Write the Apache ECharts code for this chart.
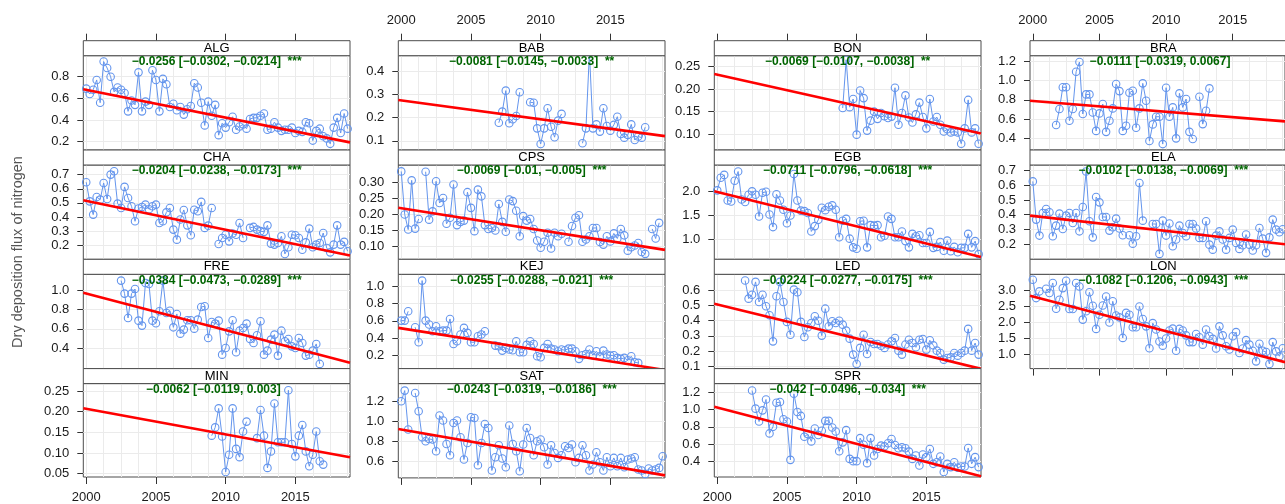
<!DOCTYPE html>
<html><head><meta charset="utf-8">
<script src="https://cdn.jsdelivr.net/npm/echarts@6/dist/echarts.min.js"></script>
<style>html,body{margin:0;padding:0;background:#fff}#c{width:1285px;height:504px}</style>
</head><body><div id="c"></div>
<script>
// ---------------- data ----------------
const sites = ['ALG','BAB','BON','BRA','CHA','CPS','EGB','ELA','FRE','KEJ','LED','LON','MIN','SAT','SPR'];
const QSTEP = 0.25; // quarterly values
// year of first value of each site's series (aligned with sites)
const firstQuarter = [2000, 2007, 2009, 2001.75, 2000, 2000, 2000, 2000, 2002.5, 2000, 2002, 2000, 2009, 2000, 2002.5];

const ALG = [0.69,0.64,0.68,0.77,0.56,0.94,0.88,0.80,0.66,0.70,0.68,0.65,0.48,0.58,0.54,0.84,0.48,0.57,0.54,0.86,
0.77,0.48,0.78,0.73,0.52,0.55,0.49,0.52,0.45,0.50,0.53,0.74,0.70,0.56,0.35,0.57,0.44,0.54,0.26,0.37,
0.33,0.38,0.43,0.31,0.34,0.36,0.32,0.41,0.42,0.42,0.44,0.46,0.31,0.32,0.38,0.33,0.30,0.31,0.31,0.33,
0.28,0.30,0.29,0.38,0.37,0.21,0.30,0.32,0.25,0.23,0.18,0.33,0.42,0.28,0.46,0.32];
const BAB = [0.178,0.226,0.316,0.176,0.193,0.207,0.309,null,null,0.266,0.264,0.154,0.087,0.154,0.24,0.161,0.116,0.187,0.216,
null,null,null,null,null,0.09,0.154,0.48,0.154,0.171,0.14,0.24,0.164,0.144,0.169,0.204,0.13,0.114,0.126,0.171,0.104,0.119,0.114,0.159];
const BON = [0.158,0.265,0.16,0.178,0.099,0.197,0.18,0.108,0.13,0.15,0.134,0.147,0.14,0.136,0.139,0.203,0.121,0.147,0.186,0.137,
0.126,0.144,0.17,0.138,0.113,0.178,0.128,0.138,0.121,0.106,0.111,0.104,0.106,0.104,0.079,0.113,0.176,0.104,0.113,0.079];
const BRA = [0.54,0.705,0.93,0.93,0.585,0.705,1.09,1.19,0.654,0.856,0.856,0.67,0.48,0.66,0.757,0.47,0.585,0.712,0.963,0.89,
0.48,0.533,0.873,0.894,0.513,0.712,0.97,0.79,0.375,0.547,0.626,0.626,0.344,0.925,0.626,0.722,0.403,0.867,0.722,0.808,
0.47,0.396,null,0.832,0.55,0.688,0.918];
const CHA = [0.646,0.511,0.417,0.542,0.523,0.641,0.528,0.7,0.724,0.495,0.464,0.613,0.535,0.476,0.37,0.46,0.471,0.488,0.455,0.476,
0.488,0.358,0.37,0.433,0.464,0.311,0.24,0.382,0.45,0.341,0.271,0.452,0.441,0.507,0.323,0.339,0.464,null,
0.209,0.252,0.275,0.228,0.283,0.275,0.358,0.252,null,
0.323,0.33,0.311,0.3,0.295,0.341,0.212,0.205,0.216,0.264,0.139,0.186,0.275,0.271,0.252,0.169,0.221,0.318,0.186,0.205,
0.216,0.287,0.181,0.15,0.205,0.341,0.205,0.224,0.158];
const CPS = [0.334,0.199,0.152,0.306,0.155,0.185,null,0.333,0.183,0.209,0.303,0.235,0.251,0.17,0.189,0.293,0.166,0.176,0.18,0.269,
0.22,0.147,0.277,0.256,0.166,0.154,0.157,0.149,0.232,0.176,0.145,0.246,0.241,0.211,0.131,0.194,0.18,0.185,0.154,0.118,
0.095,0.114,0.142,0.093,0.142,0.131,0.139,null,0.114,0.163,0.189,0.197,0.114,0.121,0.131,0.157,0.157,0.113,0.105,0.131,
0.115,0.14,0.124,0.154,0.134,0.086,0.097,0.102,0.11,0.082,0.076,null,0.154,0.124,0.173];
const EGB = [2.02,2.28,2.34,1.81,1.79,2.22,2.41,1.83,1.78,1.93,2.0,1.93,1.48,1.97,1.99,1.52,1.26,1.94,1.81,1.62,
1.34,1.5,2.36,1.81,1.6,1.59,1.55,1.17,1.28,1.41,1.66,1.61,1.68,1.71,1.62,1.05,1.39,1.43,1.02,0.84,
0.81,1.38,1.39,0.84,1.3,1.29,1.3,1.05,1.08,1.48,1.43,1.05,1.05,1.17,0.97,0.84,1.12,1.07,1.09,0.93,
0.93,1.16,0.83,0.85,0.95,0.77,0.98,0.76,0.85,0.74,0.83,0.83,1.12,0.84,0.97,0.7];
const ELA = [0.627,0.366,0.257,0.411,0.439,0.416,0.252,0.325,0.407,0.302,0.393,0.411,0.343,0.411,0.286,0.452,0.695,0.355,0.245,0.52,
0.484,0.384,0.384,0.291,0.314,0.373,0.305,0.259,null,0.259,0.202,0.252,0.616,0.359,null,null,0.336,0.336,0.132,0.359,
0.257,0.339,0.184,0.23,0.325,0.275,0.252,0.336,0.336,0.305,0.241,0.241,0.355,0.195,0.161,0.257,0.286,0.23,0.161,0.241,
0.298,0.207,0.166,0.191,0.264,0.195,0.155,0.191,0.309,0.236,0.139,0.245,0.366,0.298,0.28,0.3];
const FRE = [1.105,0.969,0.714,0.969,1.017,0.686,0.634,1.08,1.07,0.686,0.658,0.784,1.105,0.766,0.79,0.616,0.756,0.55,0.592,0.69,
0.69,0.602,0.697,0.829,0.836,0.505,0.672,0.655,0.686,0.33,0.4,0.574,0.69,0.355,0.581,0.609,0.655,0.494,0.452,0.533,
0.68,0.33,0.372,0.487,0.54,0.32,0.581,0.47,0.494,0.417,0.4,0.505,0.452,0.32,0.33,0.372,0.442,0.233];
const KEJ = [0.602,0.602,0.71,null,0.525,0.35,1.066,0.602,0.556,0.478,0.536,0.478,0.486,0.486,0.621,0.331,0.362,0.44,0.517,0.459,
0.351,0.351,0.42,0.44,0.478,null,null,0.312,0.304,0.254,0.285,0.266,0.258,0.362,0.235,0.235,0.32,0.362,0.331,0.188,
0.177,0.285,0.331,0.277,0.266,0.246,0.266,0.258,0.277,0.277,0.246,0.158,0.2,0.215,0.266,0.2,0.246,0.188,0.254,0.208,
0.196,0.2,0.169,0.158,0.169,0.142,0.188,0.119,0.111];
const LED = [0.664,0.545,0.571,0.655,0.523,0.571,0.495,0.436,0.264,0.561,0.655,0.523,0.392,0.308,0.604,0.587,0.392,0.293,0.357,0.385,
0.429,0.4,0.302,0.479,0.363,0.396,0.385,0.4,0.374,0.335,0.282,0.177,0.115,0.221,0.308,0.181,0.26,0.247,0.247,0.235,
0.221,0.243,0.264,0.286,0.203,0.177,0.243,0.275,0.253,0.225,0.275,0.28,0.21,0.271,0.238,0.203,0.188,0.144,0.155,0.159,
0.188,0.17,0.188,0.203,0.346,0.203,0.253,0.177];
const LON = [3.33,2.76,2.97,null,3.05,2.92,3.23,2.43,2.71,3.07,3.3,2.42,2.42,3.23,3.12,2.09,2.35,2.94,2.52,1.8,
2.24,2.53,2.81,2.0,2.66,2.22,2.16,1.52,2.3,2.24,1.85,1.85,2.5,2.11,1.88,1.2,1.98,1.78,1.41,1.28,
1.5,1.75,1.81,1.12,1.8,1.75,1.6,1.39,1.39,1.64,1.54,1.31,1.78,1.57,1.49,1.19,1.88,1.6,1.26,1.16,
1.57,1.7,1.05,1.19,1.45,1.31,1.12,0.79,1.34,1.12,1.08,0.71,1.39,1.1,0.95,1.2];
const MIN = [0.142,0.162,0.208,0.14,0.054,0.096,0.208,0.11,0.09,0.152,0.176,null,null,
0.136,0.204,0.142,0.064,0.104,0.22,0.126,0.126,0.126,0.252,0.122,0.092,0.142,0.168,0.104,0.068,0.096,0.152,0.08,0.072];
const SAT = [1.2,1.307,0.917,null,1.283,1.1,0.84,0.8,0.823,0.817,0.7,1.057,1.007,0.773,0.66,0.983,1.007,0.84,0.617,0.783,
1.04,1.033,0.56,0.783,0.973,0.933,0.507,0.64,0.76,0.627,0.54,0.957,0.773,0.7,0.5,0.767,0.933,0.833,0.66,0.8,
0.817,0.74,0.567,0.76,0.683,0.633,0.66,0.75,0.733,0.767,0.59,0.633,0.76,0.66,0.507,0.567,0.69,0.59,0.507,0.64,
0.55,0.633,0.55,0.633,0.54,0.617,0.627,0.64,0.517,0.507,0.473,0.527,0.507,0.517,0.533,0.65];
const SPR = [1.219,1.01,0.861,0.99,1.116,0.724,0.8,1.078,1.086,0.888,0.861,0.419,1.181,0.971,0.926,0.686,0.716,0.632,0.781,0.705,
0.754,0.869,0.869,0.792,0.747,0.518,0.621,0.762,0.43,0.404,0.404,0.67,0.594,0.381,0.67,0.469,0.545,0.583,0.575,0.61,
0.659,0.59,0.552,0.564,0.552,0.514,0.43,0.469,0.354,0.48,0.45,0.545,0.373,0.392,0.457,0.278,0.373,0.335,0.392,0.328,
0.343,0.343,0.556,0.373,0.45,0.335];
const siteValues = [ALG,BAB,BON,BRA,CHA,CPS,EGB,ELA,FRE,KEJ,LED,LON,MIN,SAT,SPR];

// Theil-Sen trend: slope per year, CI, significance, fitted value at 2000.0
const slopes = [-0.0256,-0.0081,-0.0069,-0.0111,-0.0204,-0.0069,-0.0711,-0.0102,-0.0384,-0.0255,-0.0224,-0.1082,-0.0062,-0.0243,-0.042];
const lowers = [-0.0302,-0.0145,-0.0107,-0.0319,-0.0238,-0.01,-0.0796,-0.0138,-0.0473,-0.0288,-0.0277,-0.1206,-0.0119,-0.0319,-0.0496];
const uppers = [-0.0214,-0.0033,-0.0038,0.0067,-0.0173,-0.005,-0.0618,-0.0069,-0.0289,-0.021,-0.0175,-0.0943,0.003,-0.0186,-0.034];
const stars  = ['***','**','**','','***','***','***','***','***','***','***','***','','***','***'];
const trendAt2000 = [0.678,0.274,0.232,0.788,0.514,0.219,1.985,0.391,0.971,0.512,0.507,2.811,0.207,0.918,1.023];

// axes
const xRange = [1999.79, 2018.92];
const xTicks = [2000, 2005, 2010, 2015];
const yMin = [0.123,0.061,0.065,0.283,0.101,0.059,0.593,0.095,0.184,0.045,0.085,0.565,0.042,0.433,0.221];
const yMax = [0.994,0.466,0.274,1.255,0.768,0.354,2.545,0.739,1.171,1.139,0.705,3.5,0.268,1.377,1.299];
const yTicks = [
  [0.2,0.4,0.6,0.8],[0.1,0.2,0.3,0.4],[0.10,0.15,0.20,0.25],[0.4,0.6,0.8,1.0,1.2],
  [0.2,0.3,0.4,0.5,0.6,0.7],[0.10,0.15,0.20,0.25,0.30],[1.0,1.5,2.0],[0.2,0.3,0.4,0.5,0.6,0.7],
  [0.4,0.6,0.8,1.0],[0.2,0.4,0.6,0.8,1.0],[0.1,0.2,0.3,0.4,0.5,0.6],[1.0,1.5,2.0,2.5,3.0],
  [0.05,0.10,0.15,0.20,0.25],[0.6,0.8,1.0,1.2],[0.4,0.6,0.8,1.0,1.2]];
const yDecimals = [1,1,2,1,1,2,1,1,1,1,1,1,2,1,1];
const xGridYears = [2000,2001.25,2002.5,2003.75,2005,2006.25,2007.5,2008.75,2010,2011.25,2012.5,2013.75,2015,2016.25,2017.5,2018.75];
const yAxisTitle = 'Dry deposition flux of nitrogen';

// ---------------- layout ----------------
const colLeft = [83.3, 398.3, 714.3, 1030];
const rowTop = [55.7, 165, 274.3, 383.6];
const PW = 266.7, PH = 94.3, STRIP = 15;
const FONT = '"Liberation Sans", Arial, Helvetica, sans-serif';
const AXC = '#333', TXT = '#1a1a1a', BORDER = '#4d4d4d';
const minus = s => String(s).replace('-', '\u2212');

const grids = [], xAxes = [], yAxes = [], series = [], graphics = [];
sites.forEach((site, i) => {
  const r = Math.floor(i / 4), c = i % 4;
  const left = colLeft[c], top = rowTop[r];
  grids.push({left, top, width: PW, height: PH, show: true, borderColor: BORDER, borderWidth: 1, backgroundColor: '#fff', containLabel: false});
  const isBottom = (i + 4 >= sites.length);
  const xi = xAxes.length;
  xAxes.push({gridIndex: i, type: 'value', min: xRange[0], max: xRange[1], position: 'bottom',
    axisLine: {show: false}, splitLine: {show: false},
    axisTick: {show: isBottom, customValues: xTicks, length: 7, lineStyle: {color: AXC}},
    axisLabel: {show: isBottom && c % 2 === 0, customValues: xTicks, margin: 14, fontSize: 13, color: TXT, fontFamily: FONT, formatter: v => String(Math.round(v))}});
  if (r === 0) {
    xAxes.push({gridIndex: i, type: 'value', min: xRange[0], max: xRange[1], position: 'top', offset: STRIP,
      axisLine: {show: false}, splitLine: {show: false},
      axisTick: {show: true, customValues: xTicks, length: 7, lineStyle: {color: AXC}},
      axisLabel: {show: c % 2 === 1, customValues: xTicks, margin: 14, fontSize: 13, color: TXT, fontFamily: FONT, formatter: v => String(Math.round(v))}});
  }
  yAxes.push({gridIndex: i, type: 'value', min: yMin[i], max: yMax[i],
    axisLine: {show: false}, splitLine: {show: false},
    axisTick: {show: true, customValues: yTicks[i], length: 6, lineStyle: {color: AXC}},
    axisLabel: {customValues: yTicks[i], margin: 14, fontSize: 13, color: TXT, fontFamily: FONT, formatter: v => v.toFixed(yDecimals[i])}});

  // background grid lines
  series.push({type: 'line', xAxisIndex: xi, yAxisIndex: i, data: [], silent: true, z: 1, animation: false,
    markLine: {silent: true, z: 1, symbol: ['none', 'none'], label: {show: false}, animation: false,
      lineStyle: {color: '#ebebeb', width: 1, type: 'solid'}, emphasis: {disabled: true},
      data: xGridYears.map(x => ({xAxis: x})).concat(yTicks[i].map(y => ({yAxis: y})))}});
  // observations
  const vals = siteValues[i];
  series.push({type: 'line', xAxisIndex: xi, yAxisIndex: i, z: 3, animation: false, silent: true,
    data: vals.map((v, k) => [firstQuarter[i] + k * QSTEP, v]),
    symbol: 'circle', symbolSize: 7.5, showSymbol: true, showAllSymbol: true, connectNulls: false, clip: true,
    itemStyle: {color: 'rgba(0,0,0,0)', borderColor: '#6495ED', borderWidth: 1.1},
    lineStyle: {color: '#6495ED', width: 1}});
  // trend
  series.push({type: 'line', xAxisIndex: xi, yAxisIndex: i, z: 4, animation: false, silent: true, clip: true,
    data: xRange.map(x => [x, trendAt2000[i] + slopes[i] * (x - 2000)]),
    symbol: 'none', lineStyle: {color: '#ff0000', width: 2.6}});

  // strip
  graphics.push({type: 'rect', z: 50, shape: {x: left, y: top - STRIP, width: PW, height: STRIP},
    style: {fill: '#fff', stroke: BORDER, lineWidth: 1}});
  graphics.push({type: 'text', z: 51, x: left + PW / 2, y: top - STRIP / 2,
    style: {text: site, font: '13px ' + FONT, fill: '#000', textAlign: 'center', textVerticalAlign: 'middle'}});
  // stats
  const st = minus(slopes[i]) + ' [' + minus(lowers[i]) + ', ' + minus(uppers[i]) + ']  ' + stars[i];
  graphics.push({type: 'text', z: 60, x: left + PW / 2, y: top + 6,
    style: {text: st, font: 'bold 12px ' + FONT, fill: '#006400', textAlign: 'center', textVerticalAlign: 'middle'}});
});
graphics.push({type: 'text', z: 60, x: 18, y: 252, rotation: Math.PI / 2,
  style: {text: yAxisTitle, font: '14.5px ' + FONT, fill: '#555', textAlign: 'center', textVerticalAlign: 'middle'}});

const chart = echarts.init(document.getElementById('c'), null, {renderer: 'canvas', width: 1285, height: 504});
chart.setOption({animation: false, backgroundColor: '#fff', grid: grids, xAxis: xAxes, yAxis: yAxes, series, graphic: {elements: graphics}});
</script></body></html>
